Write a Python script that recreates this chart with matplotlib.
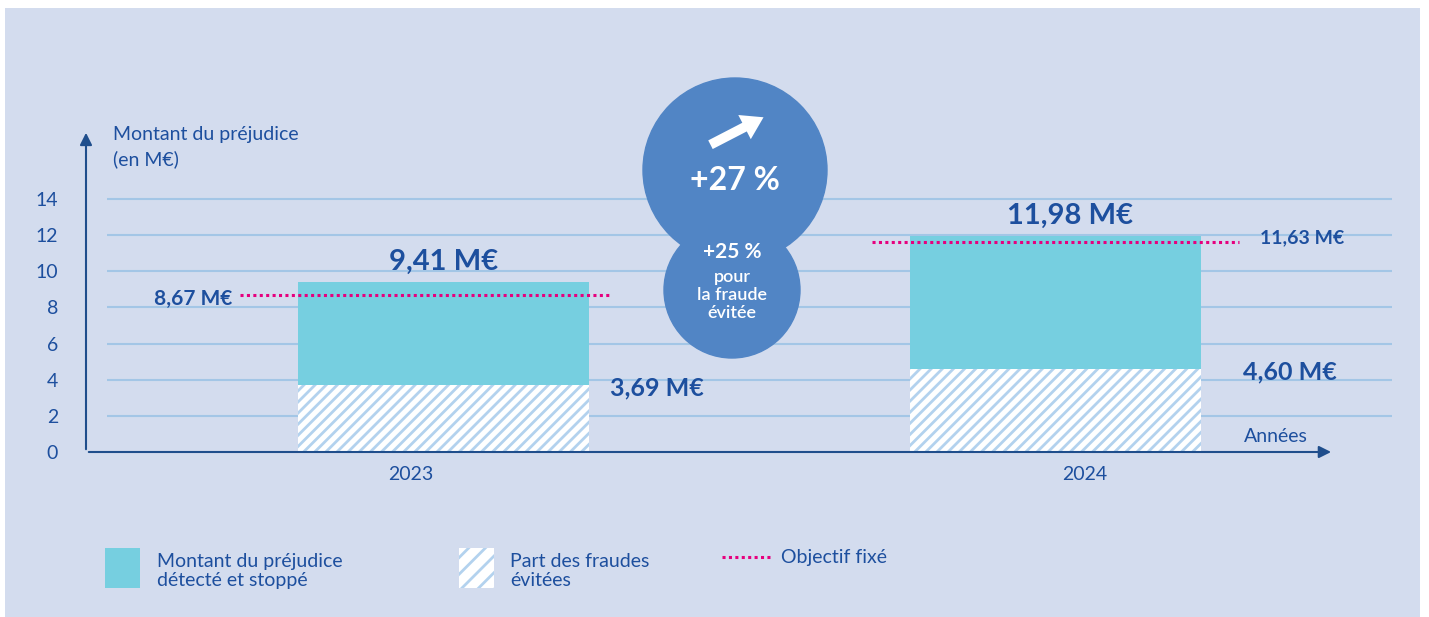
import numpy as np
import matplotlib.pyplot as plt
from matplotlib.patches import Rectangle, Circle, FancyArrowPatch

plt.rcParams['font.family'] = ['Lato', 'DejaVu Sans']
plt.rcParams['hatch.linewidth'] = 2.0
plt.rcParams['hatch.color'] = '#B3D2EE'

# data
years = ["2023", "2024"]
total = [9.41, 11.98]          # montant du préjudice détecté et stoppé
avoided = [3.69, 4.60]         # part des fraudes évitées
targets = [8.67, 11.63]        # objectif fixé
total_lbl = ["9,41 M€", "11,98 M€"]
avoided_lbl = ["3,69 M€", "4,60 M€"]
target_lbl = ["8,67 M€", "11,63 M€"]
yticks = [0, 2, 4, 6, 8, 10, 12, 14]

BG = '#D3DCEE'
CYAN = '#76CFE0'
GRID = '#A3C6E6'
PINK = '#E6007E'
AXC = '#1F4E8C'
TXT = '#1D4F9E'
BUBBLE = '#5185C5'

fig = plt.figure(figsize=(14.29, 6.17), dpi=100, facecolor='white')
fig.patches.append(Rectangle((5 / 1429, 0), 1415 / 1429, 1 - 8 / 617,
                             transform=fig.transFigure, facecolor=BG,
                             edgecolor='none', zorder=-10))

ax = fig.add_axes([86 / 1429, 1 - 452 / 617, (1392 - 86) / 1429, (452 - 130) / 617])
ax.set_facecolor('none')
ax.set_xlim(-0.584, 1.55)
ax.set_ylim(0, 17.82)
for s in ax.spines.values():
    s.set_visible(False)

x = np.arange(len(years))
w = 0.4755

# grid
ax.hlines(yticks[1:], -0.55, 1.55, color=GRID, lw=1.5, zorder=0)

# bars
ax.bar(x, avoided, width=w, color='white', hatch='///', linewidth=0, zorder=2)
ax.bar(x, np.array(total) - np.array(avoided), bottom=avoided, width=w,
       color=CYAN, linewidth=0, zorder=2)

# target lines
for i, t in enumerate(targets):
    lo, hi = (-0.332, 0.273) if i == 0 else (-0.30, 0.30)
    ax.plot([x[i] + lo, x[i] + hi], [t, t], color=PINK, lw=2.2,
            linestyle=(0, (1, 1.1)), zorder=3)
ax.text(x[0] - 0.345, targets[0] - 0.2, target_lbl[0], ha='right', va='center',
        fontsize=15, fontweight='bold', color=TXT)
ax.text(x[1] + 0.335, targets[1] + 0.2, target_lbl[1], ha='left', va='center',
        fontsize=14, fontweight='bold', color=TXT)

# value labels
ax.text(x[0], total[0] + 1.1, total_lbl[0], ha='center', va='center',
        fontsize=21, fontweight='bold', color=TXT)
ax.text(x[1] + 0.024, total[1] + 1.1, total_lbl[1], ha='center', va='center',
        fontsize=21, fontweight='bold', color=TXT)
for i, v in enumerate(avoided):
    ax.text(x[i] + 0.272 + (0.035 if i else 0), v - 0.15, avoided_lbl[i],
            ha='left', va='center', fontsize=18, fontweight='bold', color=TXT)

# axes with arrows
ax.annotate('', xy=(-0.584, 17.82), xytext=(-0.584, 0),
            arrowprops=dict(arrowstyle='-|>', color=AXC, lw=1.5, mutation_scale=18),
            annotation_clip=False)
ax.annotate('', xy=(1.455, 0), xytext=(-0.584, 0),
            arrowprops=dict(arrowstyle='-|>', color=AXC, lw=1.5, mutation_scale=18),
            annotation_clip=False)

ax.set_yticks(yticks)
ax.set_yticklabels([str(v) for v in yticks], fontsize=14, color=TXT)
ax.tick_params(axis='y', length=0, pad=20)
ax.set_xticks([])
for i, yr in enumerate(years):
    ax.text(x[i] + (-0.053 if i == 0 else 0.048), -1.25, yr, ha='center',
            va='center', fontsize=14, color=TXT)

ax.text(1.36, 0.85, "Années", ha='center', va='center', fontsize=14, color=TXT)
ax.text(-0.54, 18.05, "Montant du préjudice\n(en M€)", ha='left', va='top',
        fontsize=14, color=TXT, linespacing=1.5)

# bubbles
tr = fig.dpi_scale_trans
fig.patches.append(Circle((7.35, 4.47), 0.92, transform=tr, color=BUBBLE, zorder=5))
fig.patches.append(Circle((7.32, 3.27), 0.68, transform=tr, color=BUBBLE, zorder=5))
fig.text(7.35 / 14.29, 4.37 / 6.17, "+27 %", ha='center', va='center',
         fontsize=23, fontweight='bold', color='white', zorder=6)
fig.add_artist(FancyArrowPatch((708 / 1429, 1 - 146 / 617), (766 / 1429, 1 - 116 / 617),
                               transform=fig.transFigure,
                               arrowstyle='simple,head_width=1.4,head_length=1.1,tail_width=0.5',
                               color='white', lw=0, mutation_scale=14, zorder=7))
fig.text(7.32 / 14.29, 1 - 252 / 617, "+25 %", ha='center', va='center',
         fontsize=15, fontweight='bold', color='white', zorder=6)
fig.text(7.32 / 14.29, 1 - 295 / 617, "pour\nla fraude\névitée", ha='center',
         va='center', fontsize=13, fontweight='semibold', color='white',
         linespacing=1.15, zorder=6)

# legend
leg_y = 1 - 588 / 617
lh = 40 / 617
fig.patches.append(Rectangle((105 / 1429, leg_y), 35 / 1429, lh,
                             transform=fig.transFigure, facecolor=CYAN, edgecolor='none'))
fig.patches.append(Rectangle((459 / 1429, leg_y), 35 / 1429, lh,
                             transform=fig.transFigure, facecolor='white', hatch='//',
                             linewidth=0))
fig.lines.append(plt.Line2D([722 / 1429, 770 / 1429], [1 - 557 / 617, 1 - 557 / 617],
                            transform=fig.transFigure, color=PINK, lw=2.2,
                            linestyle=(0, (1, 1.1))))
fig.text(157 / 1429, 1 - 571 / 617, "Montant du préjudice\ndétecté et stoppé",
         ha='left', va='center', fontsize=14, color=TXT, linespacing=1.1)
fig.text(510 / 1429, 1 - 571 / 617, "Part des fraudes\névitées",
         ha='left', va='center', fontsize=14, color=TXT, linespacing=1.1)
fig.text(781 / 1429, 1 - 557 / 617, "Objectif fixé",
         ha='left', va='center', fontsize=14, color=TXT)

fig.savefig("out.png", dpi=100, facecolor=fig.get_facecolor())
